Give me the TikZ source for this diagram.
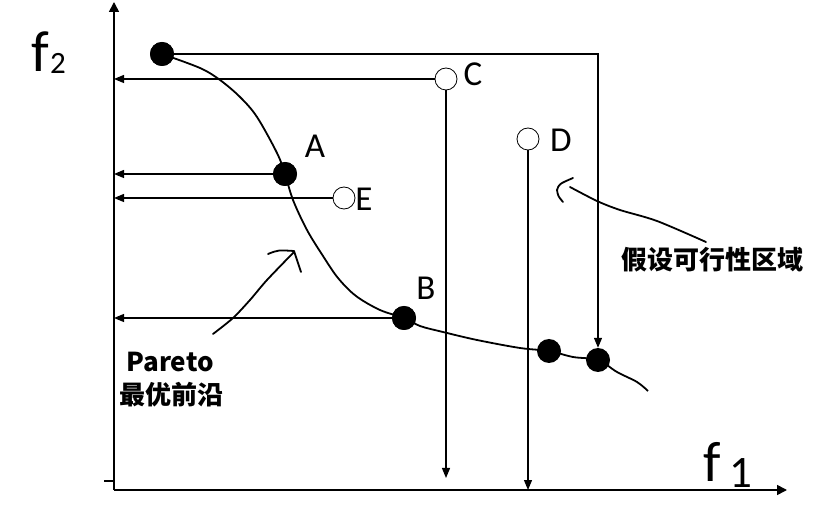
\documentclass[tikz,border=0pt]{standalone}
\usepackage{fontspec}
\setmainfont{Carlito}
\newfontfamily\cjk{Noto Sans CJK SC}
\usetikzlibrary{arrows.meta}
\begin{document}
\begin{tikzpicture}[x=1pt,y=-1pt,
  axis/.style={line width=1.6pt},
  guide/.style={line width=1.2pt},
  tip/.style={-{Triangle[length=10pt,width=8pt]}},
  pdot/.style={circle,fill=black,minimum size=24pt,inner sep=0pt},
  odot/.style={circle,draw,line width=0.8pt,fill=white,minimum size=22pt,inner sep=0pt},
  lbl/.style={font=\fontsize{35}{35}\selectfont,inner sep=0pt},
  hand/.style={line width=1.8pt,line cap=round,line join=round},
  front/.style={line width=1.8pt},
  cjklbl/.style={font=\cjk\bfseries\fontsize{26}{26}\selectfont,inner sep=0pt}]
\useasboundingbox (0,0) rectangle (820,529);
% axes
\coordinate (O) at (114,490);
\coordinate (ytop) at (114,2);
\coordinate (xend) at (787,490);
\coordinate (tick) at (104,481);
\draw[axis,-{Triangle[length=10pt,width=10pt]}] (O) -- (ytop);
\draw[axis,-{Triangle[length=10pt,width=10pt]}] (O) -- (xend);
\draw[guide] (tick) -- (tick -| O);
% front
\draw[front] plot[smooth,tension=0.55] coordinates {(162,54) (200,68) (220,80) (240,97) (257,117) (277,153) (285,174) (293,200) (307,230) (323,256) (338,278) (356,296) (380,310) (404,318) (420,326) (443,332) (477,340) (520,348) (549,351) (573,357) (598,360) (617,372) (637,382) (648,391)};
% points
\node[pdot] (top) at (162,54) {};
\node[pdot] (A) at (285,174) {};
\node[pdot] (B) at (404,318) {};
\node[pdot] (P4) at (549,351) {};
\node[pdot] (P5) at (598,360) {};
\node[odot] (C) at (446,79) {};
\node[odot] (D) at (528,139) {};
\node[odot] (E) at (344,198) {};
\coordinate (cEnd) at (446,478);
% guides
\draw[guide,tip] (top.center) -- (top -| P5) -- (P5);
\draw[guide,tip] (C) -- (C -| O);
\draw[guide,tip] (C) -- (cEnd);
\draw[guide,tip] (D) -- (D |- O);
\draw[guide,tip] (A.center) -- (A -| O);
\draw[guide,tip] (E) -- (E -| O);
\draw[guide,tip] (B.center) -- (B -| O);
\node[pdot] at (top) {};
\node[pdot] at (A) {};
\node[pdot] at (B) {};
% labels
\node[lbl] (lA) at (315,146) {A};
\node[lbl] (lB) at (426,288) {B};
\node[lbl] (lC) at (473,74) {C};
\node[lbl] (lD) at (561,140) {D};
\node[lbl] (lE) at (364,199) {E};
\node[anchor=base west,inner sep=0pt,font=\fontsize{58}{58}\selectfont] (f2) at (31,72) {f};
\node[anchor=base west,inner sep=0pt,font=\fontsize{31}{31}\selectfont] (f2s) at (50,74) {2};
\node[anchor=base west,inner sep=0pt,font=\fontsize{57}{57}\selectfont] (f1) at (703,482) {f};
\node[anchor=base west,inner sep=0pt,font=\fontsize{45}{45}\selectfont] (f1s) at (729,487) {1};
\node[cjklbl] (par) at (170,362) {Pareto};
\node[cjklbl] (pfront) at (171,395) {最优前沿};
\node[cjklbl] (feas) at (712,260) {假设可行性区域};
% hand-drawn arrows
\draw[hand] plot[smooth] coordinates {(213,334) (233,318) (250,300) (267,280) (294,252)};
\draw[hand] (268,254) .. controls (278,250) .. (294,251) -- (301,272);
\draw[hand] plot[smooth] coordinates {(706,242) (657,221) (620,210) (597,201) (570,187)};
\draw[hand] (573,178) .. controls (559,184) .. (557,190) .. controls (558,196) .. (563,202);
\end{tikzpicture}
\end{document}
